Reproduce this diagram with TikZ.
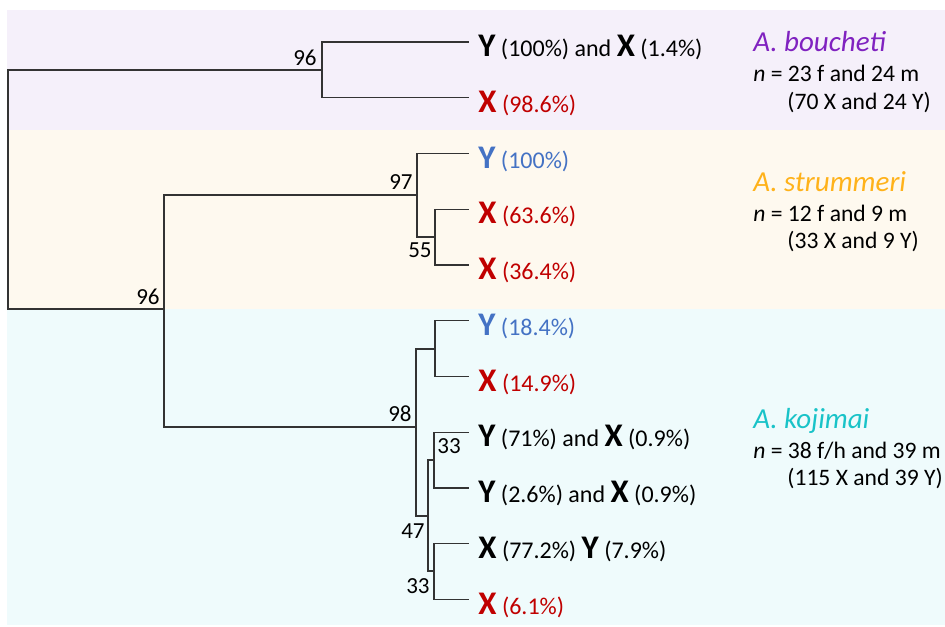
\documentclass[tikz,border=0pt]{standalone}
\usepackage{fontspec}
\setmainfont{Carlito}
\usetikzlibrary{calc}
\definecolor{bandpurple}{RGB}{245,240,250}
\definecolor{bandbeige}{RGB}{254,249,239}
\definecolor{bandcyan}{RGB}{239,251,252}
\definecolor{chrred}{RGB}{192,0,0}
\definecolor{chrblue}{RGB}{68,114,196}
\definecolor{sppurple}{RGB}{128,34,192}
\definecolor{spgold}{RGB}{255,178,26}
\definecolor{spcyan}{RGB}{25,195,200}
\newcommand{\chrY}{{\fontsize{16.5pt}{17pt}\selectfont\bfseries Y}}
\newcommand{\chrX}{{\fontsize{16.5pt}{17pt}\selectfont\bfseries X}}
\tikzset{
    branch/.style={draw=black!80,line width=0.65pt},
    leaflabel/.style={anchor=base west,inner sep=0pt,font=\fontsize{12pt}{13pt}\selectfont},
    boot/.style={inner sep=0pt,font=\fontsize{11.5pt}{12pt}\selectfont},
    species/.style={anchor=base west,inner sep=0pt,font=\fontsize{14.5pt}{16pt}\selectfont\itshape},
    sample/.style={anchor=base west,inner sep=0pt,font=\fontsize{11.8pt}{13pt}\selectfont}
}

\begin{document}
\begin{tikzpicture}[x=0.5pt,y=-0.5pt]
\useasboundingbox (0,0) rectangle (945,626);
\fill[bandpurple](7,10) rectangle (945,130);
\fill[bandbeige](7,130) rectangle (945,309);
\fill[bandcyan](7,309) rectangle (945,625);
% tips
\foreach \i in {0,...,10}
    \coordinate (l\i) at (469,{42+55.75*\i});
% inner nodes
\coordinate (rt) at (8,190);
\coordinate (nB) at (322,70);
\coordinate (nSK) at (164,309);
\coordinate (nS) at (417,195);
\coordinate (nS2) at (435,237);
\coordinate (nK) at (416,427);
\coordinate (nK1) at (435,349);
\coordinate (nK2) at (428,516);
\coordinate (nK3) at (434,460);
\coordinate (nK4) at (434,571);
\draw[branch](rt)|-(nB) (rt)|-(nSK);
\draw[branch](nB)|-(l0) (nB)|-(l1);
\draw[branch](nSK)|-(nS) (nSK)|-(nK);
\draw[branch](nS)|-(l2) (nS)|-(nS2) (nS2)|-(l3) (nS2)|-(l4);
\draw[branch](nK)|-(nK1) (nK)|-(nK2) (nK1)|-(l5) (nK1)|-(l6);
\draw[branch](nK2)|-(nK3) (nK2)|-(nK4);
\draw[branch](nK3)|-(l7) (nK3)|-(l8) (nK4)|-(l9) (nK4)|-(l10);
% bootstrap values
\node[boot,anchor=base east](bB) at ($(nB)+(-5,-4)$){96};
\node[boot,anchor=base east](bSK) at ($(nSK)+(-4,-5)$){96};
\node[boot,anchor=base east](bS) at ($(nS)+(-4,-6)$){97};
\node[boot,anchor=base east](bS2) at ($(nS2)+(-3,20)$){55};
\node[boot,anchor=base east](bK) at ($(nK)+(-4,-6)$){98};
\node[boot,anchor=base west](bK3) at ($(nK3)+(3,-7)$){33};
\node[boot,anchor=base east](bK2) at ($(nK2)+(-3,22)$){47};
\node[boot,anchor=base east](bK4) at ($(nK4)+(-4,22)$){33};
% tip labels
\node[leaflabel](t0) at ($(l0)+(9,14.5)$){\chrY{} (100\%) and \chrX{} (1.4\%)};
\node[leaflabel,chrred](t1) at ($(l1)+(9,14.5)$){\chrX{} (98.6\%)};
\node[leaflabel,chrblue](t2) at ($(l2)+(9,14.5)$){\chrY{} (100\%)};
\node[leaflabel,chrred](t3) at ($(l3)+(9,14.5)$){\chrX{} (63.6\%)};
\node[leaflabel,chrred](t4) at ($(l4)+(9,14.5)$){\chrX{} (36.4\%)};
\node[leaflabel,chrblue](t5) at ($(l5)+(9,14.5)$){\chrY{} (18.4\%)};
\node[leaflabel,chrred](t6) at ($(l6)+(9,14.5)$){\chrX{} (14.9\%)};
\node[leaflabel](t7) at ($(l7)+(9,14.5)$){\chrY{} (71\%) and \chrX{} (0.9\%)};
\node[leaflabel](t8) at ($(l8)+(9,14.5)$){\chrY{} (2.6\%) and \chrX{} (0.9\%)};
\node[leaflabel](t9) at ($(l9)+(9,14.5)$){\chrX{} (77.2\%) \chrY{} (7.9\%)};
\node[leaflabel,chrred](t10) at ($(l10)+(9,14.5)$){\chrX{} (6.1\%)};
% species
\node[species,sppurple](spB) at (753,52){A. boucheti};
\node[sample](nBn) at (753,82){\textit{n} = 23 f and 24 m};
\node[sample](nBc) at (787,109){(70 X and 24 Y)};
\node[species,spgold](spS) at (753,191){A. strummeri};
\node[sample](nSn) at (753,221){\textit{n} = 12 f and 9 m};
\node[sample](nSc) at (787,248){(33 X and 9 Y)};
\node[species,spcyan](spK) at (753,428){A. kojimai};
\node[sample](nKn) at (753,458){\textit{n} = 38 f/h and 39 m};
\node[sample](nKc) at (787,485){(115 X and 39 Y)};
\end{tikzpicture}
\end{document}
